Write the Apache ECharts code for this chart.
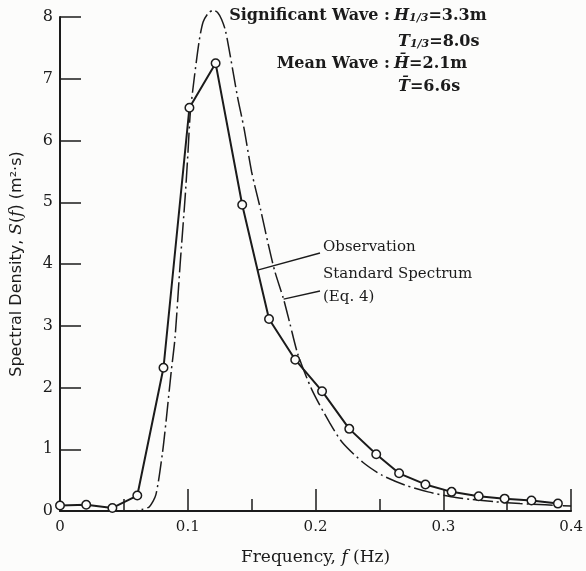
<!DOCTYPE html>
<html><head><meta charset="utf-8">
<script src="https://cdn.jsdelivr.net/npm/echarts@6/dist/echarts.min.js"></script>
<style>html,body{margin:0;padding:0;background:#fcfcfb;} #c{width:586px;height:571px;}</style>
</head><body><div id="c"></div>
<script>
// Observation (circles)
const obsFreq = [0, 0.0205, 0.041, 0.0605, 0.081, 0.1013, 0.1218, 0.1426, 0.1636, 0.1841, 0.2051, 0.2264, 0.2475, 0.2654, 0.286, 0.3065, 0.3277, 0.348, 0.369, 0.3897];
const obsDensity = [0.09, 0.10, 0.05, 0.25, 2.32, 6.53, 7.25, 4.96, 3.11, 2.45, 1.94, 1.33, 0.92, 0.61, 0.43, 0.31, 0.24, 0.20, 0.17, 0.12];
// Standard spectrum (Eq. 4)
const stdFreq = [0.045, 0.055, 0.06, 0.065, 0.07, 0.075, 0.08, 0.083, 0.087, 0.09, 0.094, 0.098, 0.1, 0.102, 0.105, 0.109, 0.112, 0.116, 0.12, 0.1235, 0.1265, 0.1295, 0.133, 0.139, 0.144, 0.15, 0.157, 0.163, 0.168, 0.175, 0.18, 0.186, 0.197, 0.211, 0.221, 0.237, 0.252, 0.27, 0.288, 0.306, 0.321, 0.34, 0.36, 0.38, 0.4];
const stdDensity = [0, 0, 0.01, 0.03, 0.07, 0.26, 0.91, 1.45, 2.25, 2.8, 3.99, 5.1, 5.75, 6.45, 7.0, 7.62, 7.92, 8.06, 8.11, 8.07, 7.96, 7.78, 7.4, 6.7, 6.2, 5.49, 4.88, 4.32, 3.89, 3.43, 3.03, 2.55, 1.97, 1.43, 1.11, 0.79, 0.58, 0.42, 0.31, 0.23, 0.19, 0.15, 0.12, 0.1, 0.08];
const seriesNames = ['Observation', 'Standard Spectrum'];
const xTicks = {min: 0, max: 0.4, interval: 0.1};
const yTicks = {min: 0, max: 8, interval: 1};

const ink = '#1b1b1b';
const serif = "'DejaVu Serif', 'Liberation Serif', serif";
const sans = "'DejaVu Sans', sans-serif";

const chart = echarts.init(document.getElementById('c'), null, {renderer: 'canvas'});
const option = {
  backgroundColor: '#fcfcfb',
  animation: false,
  grid: {left: 58, right: 7, top: 17, bottom: 55},
  xAxis: {
    type: 'value', min: xTicks.min, max: xTicks.max, interval: xTicks.interval,
    axisLine: {lineStyle: {color: ink, width: 2}},
    axisTick: {inside: true, length: 22, lineStyle: {color: ink, width: 1.5}},
    minorTick: {show: true, splitNumber: 2, length: 12, lineStyle: {color: ink, width: 1.5}},
    splitLine: {show: false},
    axisLabel: {color: ink, fontFamily: serif, fontSize: 15, margin: 9},
    name: '{a|Frequency, }{i|f}{a| (Hz)}',
    nameLocation: 'middle', nameGap: 38,
    nameTextStyle: {rich: {
      a: {fontFamily: serif, fontSize: 17, color: ink},
      i: {fontFamily: serif, fontSize: 17, color: ink, fontStyle: 'italic'}
    }}
  },
  yAxis: {
    type: 'value', min: yTicks.min, max: yTicks.max, interval: yTicks.interval,
    axisLine: {show: true, lineStyle: {color: ink, width: 2}},
    axisTick: {show: true, inside: true, length: 21, lineStyle: {color: ink, width: 1.5}},
    splitLine: {show: false},
    axisLabel: {color: ink, fontFamily: serif, fontSize: 16, margin: 7},
    name: '{a|Spectral Density, }{i|S}{a|(}{i|f}{a|) (m²·s)}',
    nameLocation: 'middle', nameGap: 35, nameRotate: 90,
    nameTextStyle: {rich: {
      a: {fontFamily: sans, fontSize: 16, color: ink},
      i: {fontFamily: serif, fontSize: 17, color: ink, fontStyle: 'italic'}
    }}
  },
  series: [
    {
      name: seriesNames[1], type: 'line', clip: false, smooth: 0.25,
      symbol: 'none',
      data: stdFreq.map((f, i) => [f, stdDensity[i]]),
      lineStyle: {color: ink, width: 1.5, type: [20, 4, 2, 4]},
      z: 2
    },
    {
      name: seriesNames[0], type: 'line', clip: false,
      symbol: 'circle', symbolSize: 8.5,
      data: obsFreq.map((f, i) => [f, obsDensity[i]]),
      lineStyle: {color: ink, width: 2},
      itemStyle: {color: '#fcfcfb', borderColor: ink, borderWidth: 1.5},
      z: 3
    }
  ]
};
chart.setOption(option);

const p = (f, s) => chart.convertToPixel({gridIndex: 0}, [f, s]);
const obsEnd = p(0.1546, 3.9);
const stdEnd = p(0.175, 3.43);
const rt = {
  n: {fontFamily: serif, fontSize: 16, fontWeight: 'bold', color: ink},
  i: {fontFamily: serif, fontSize: 16, fontWeight: 'bold', color: ink, fontStyle: 'italic'},
  s: {fontFamily: serif, fontSize: 11, fontWeight: 'bold', color: ink, fontStyle: 'italic', verticalAlign: 'bottom'},
  m: {fontFamily: serif, fontSize: 15, color: ink}
};
const txt = (x, y, text, align) => ({
  type: 'text', x: x, y: y,
  style: {text: text, rich: rt, align: align || 'left', verticalAlign: 'middle', fill: ink, font: '15px ' + serif}
});
chart.setOption({
  graphic: [
    txt(390, 16, '{n|Significant Wave :}', 'right'),
    txt(394, 16, '{i|H}{s|1/3}{n|=3.3m}'),
    txt(398, 42, '{i|T}{s|1/3}{n|=8.0s}'),
    txt(390, 64, '{n|Mean Wave :}', 'right'),
    txt(394, 64, '{i|H\u0304}{n|=2.1m}'),
    txt(398, 87, '{i|T\u0304}{n|=6.6s}'),
    txt(323, 247, '{m|Observation}'),
    txt(323, 274, '{m|Standard Spectrum}'),
    txt(323, 297, '{m|(Eq. 4)}'),
    {type: 'line', shape: {x1: 320, y1: 253, x2: obsEnd[0], y2: obsEnd[1]}, style: {stroke: ink, lineWidth: 1.3}},
    {type: 'line', shape: {x1: 320, y1: 291, x2: stdEnd[0], y2: stdEnd[1]}, style: {stroke: ink, lineWidth: 1.3}}
  ]
});
</script>
</body></html>
